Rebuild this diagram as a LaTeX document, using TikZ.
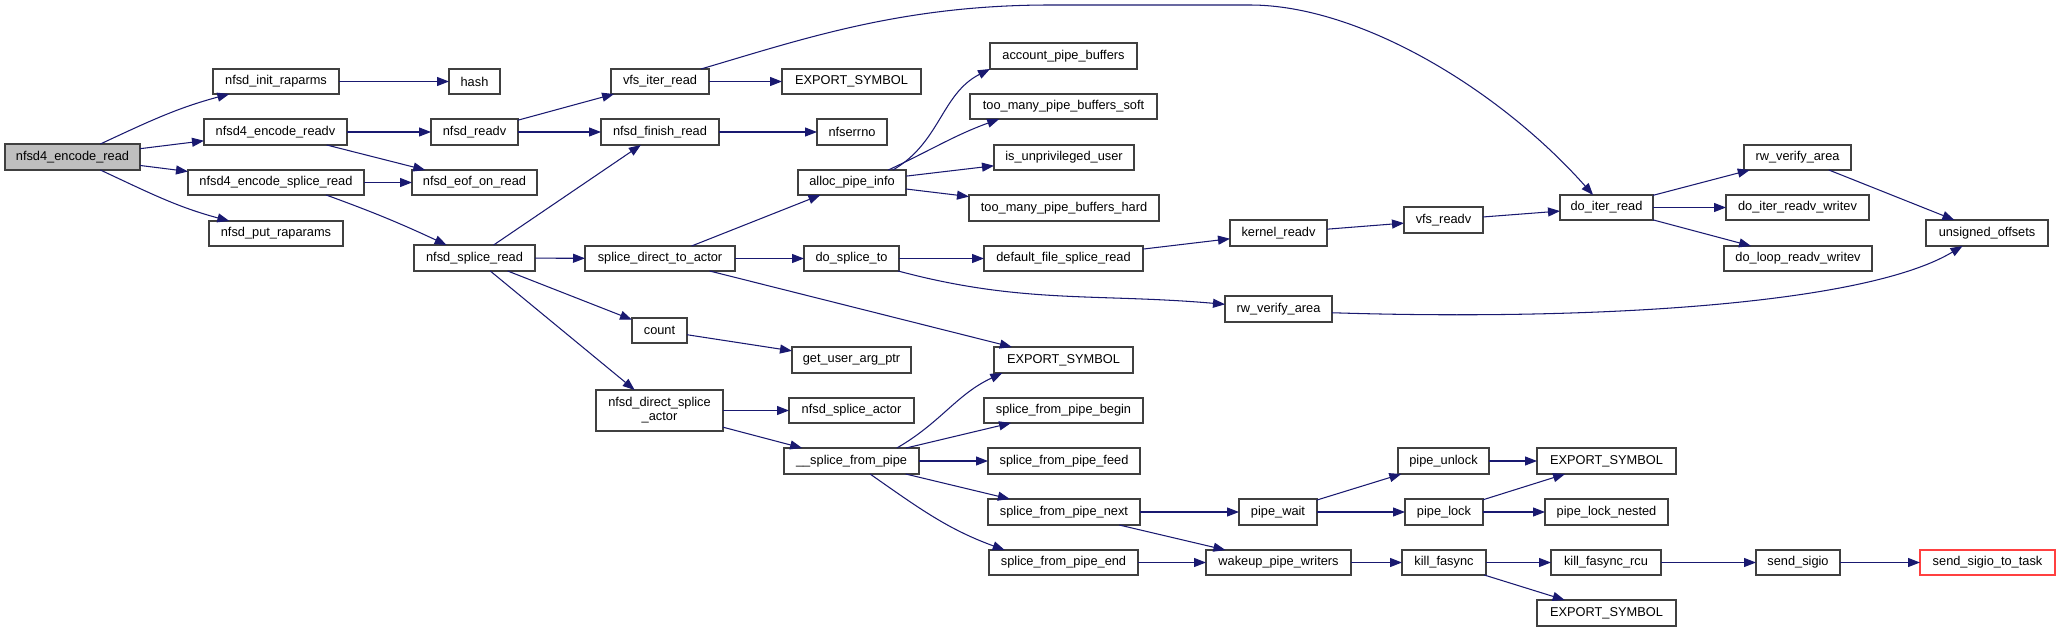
\documentclass[tikz,border=0pt]{standalone}
\usepackage{fontspec}
\setmainfont{Liberation Sans}
\usetikzlibrary{arrows.meta}
\definecolor{edgecol}{HTML}{191970}
\definecolor{boxcol}{HTML}{404040}
\definecolor{rootfill}{HTML}{BFBFBF}
\definecolor{redbox}{HTML}{FF4040}
\newcommand\gnode[7][]{\node[box,#1,minimum width={#5-#3},minimum height={#6-#4}] (#2) at ({(#3+#5)/2},{-(#4+#6)/2}) {#7};}
\begin{document}
\begin{tikzpicture}[x=1pt,y=1pt,
  box/.style={draw=boxcol,line width=1.1pt,fill=white,inner sep=0pt,outer sep=0pt,
    font=\fontsize{12.8}{14}\selectfont,align=center},
  ln/.style={draw=edgecol,line width=1.05pt,-{Triangle[length=12pt,width=9pt]}}]
\fill[white] (0,0) rectangle (2060,-632);
\useasboundingbox (0,0) rectangle (2060,-632);
% nodes
\gnode[fill=rootfill]{encread}{5}{144}{140}{170}{nfsd4\_encode\_read}
\gnode{initra}{213}{69}{339}{94}{nfsd\_init\_raparms}
\gnode{hash}{449}{69}{500}{94}{hash}
\gnode{encreadv}{204}{119}{347}{145}{nfsd4\_encode\_readv}
\gnode{readv}{431}{119}{518}{145}{nfsd\_readv}
\gnode{encsplice}{188}{170}{364}{195}{nfsd4\_encode\_splice\_read}
\gnode{eof}{412}{170}{537}{195}{nfsd\_eof\_on\_read}
\gnode{putra}{209}{221}{343}{246}{nfsd\_put\_raparams}
\gnode{splread}{414}{245}{535}{271}{nfsd\_splice\_read}
\gnode{vfsiter}{611}{69}{709}{94}{vfs\_iter\_read}
\gnode{expa}{782}{69}{921}{94}{EXPORT\_SYMBOL}
\gnode{finish}{601}{119}{719}{145}{nfsd\_finish\_read}
\gnode{nfserrno}{817}{119}{887}{145}{nfserrno}
\gnode{alloc}{798}{170}{906}{195}{alloc\_pipe\_info}
\gnode{account}{990}{43}{1137}{69}{account\_pipe\_buffers}
\gnode{soft}{970}{94}{1157}{119}{too\_many\_pipe\_buffers\_soft}
\gnode{unpriv}{994}{145}{1134}{170}{is\_unprivileged\_user}
\gnode{hard}{969}{195}{1159}{221}{too\_many\_pipe\_buffers\_hard}
\gnode{sdta}{585}{246}{735}{271}{splice\_direct\_to\_actor}
\gnode{dosplice}{804}{246}{899}{271}{do\_splice\_to}
\gnode{dfsr}{984}{246}{1143}{271}{default\_file\_splice\_read}
\gnode{count}{632}{318}{687}{343}{count}
\gnode{kreadv}{1230}{220}{1327}{246}{kernel\_readv}
\gnode{vfsreadv}{1404}{207}{1483}{233}{vfs\_readv}
\gnode{rwvb}{1225}{296}{1332}{322}{rw\_verify\_area}
\gnode{doiter}{1560}{195}{1653}{220}{do\_iter\_read}
\gnode{rwva}{1744}{145}{1851}{170}{rw\_verify\_area}
\gnode{dirw}{1726}{195}{1869}{220}{do\_iter\_readv\_writev}
\gnode{dlrw}{1724}{246}{1872}{271}{do\_loop\_readv\_writev}
\gnode{unsig}{1926}{220}{2048}{246}{unsigned\_offsets}
\gnode{guap}{792}{347}{911}{373}{get\_user\_arg\_ptr}
\gnode{ndsa}{596}{390}{723}{431}{nfsd\_direct\_splice\\\_actor}
\gnode{nsa}{789}{398}{914}{423}{nfsd\_splice\_actor}
\gnode{sfp}{784}{448}{919}{474}{\_\_splice\_from\_pipe}
\gnode{expb}{994}{347}{1133}{373}{EXPORT\_SYMBOL}
\gnode{sfpb}{984}{398}{1143}{423}{splice\_from\_pipe\_begin}
\gnode{sfpf}{988}{448}{1140}{474}{splice\_from\_pipe\_feed}
\gnode{sfpn}{988}{499}{1140}{525}{splice\_from\_pipe\_next}
\gnode{sfpe}{989}{550}{1138}{575}{splice\_from\_pipe\_end}
\gnode{pwait}{1239}{499}{1317}{525}{pipe\_wait}
\gnode{punlock}{1398}{448}{1489}{474}{pipe\_unlock}
\gnode{plock}{1405}{499}{1483}{525}{pipe\_lock}
\gnode{wpw}{1206}{550}{1351}{575}{wakeup\_pipe\_writers}
\gnode{kfa}{1402}{550}{1486}{575}{kill\_fasync}
\gnode{expc}{1537}{448}{1676}{474}{EXPORT\_SYMBOL}
\gnode{pln}{1545}{499}{1668}{525}{pipe\_lock\_nested}
\gnode{kfr}{1551}{550}{1661}{575}{kill\_fasync\_rcu}
\gnode{expd}{1537}{600}{1676}{626}{EXPORT\_SYMBOL}
\gnode{ssig}{1756}{550}{1840}{575}{send\_sigio}
\gnode[draw=redbox]{sstt}{1920}{550}{2055}{575}{send\_sigio\_to\_task}
% edges
\draw[ln] (encread) to[out=25,in=195] (initra);
\draw[ln] (encread) -- (encreadv);
\draw[ln] (encread) -- (encsplice);
\draw[ln] (encread) to[out=-25,in=165] (putra);
\draw[ln] (initra) -- (hash);
\draw[ln] (encreadv) -- (readv);
\draw[ln] (encreadv) -- (eof);
\draw[ln] (encsplice) -- (eof);
\draw[ln] (encsplice.-14) to[out=-20,in=155] (splread.155);
\draw[ln] (readv) -- (vfsiter);
\draw[ln] (readv) -- (finish);
\draw[ln] (vfsiter) -- (expa);
\draw[ln] (vfsiter.17) .. controls (800,-40) and (900,-5) .. (1050,-5) -- (1250,-5) .. controls (1360,-5) and (1500,-90) .. (doiter.137);
\draw[ln] (finish) -- (nfserrno);
\draw[ln] (splread) -- (finish);
\draw[ln] (splread) -- (sdta);
\draw[ln] (splread) -- (count);
\draw[ln] (splread) -- (ndsa);
\draw[ln] (sdta) -- (alloc);
\draw[ln] (sdta) -- (dosplice);
\draw[ln] (sdta) -- (expb);
\draw[ln] (alloc.17) to[out=30,in=207] (account.south west);
\draw[ln] (alloc.19) to[out=25,in=200] (soft.191);
\draw[ln] (alloc) -- (unpriv);
\draw[ln] (alloc) -- (hard);
\draw[ln] (dosplice) -- (dfsr);
\draw[ln] (dosplice) to[out=-15,in=175] (rwvb);
\draw[ln] (dfsr) -- (kreadv);
\draw[ln] (kreadv) -- (vfsreadv);
\draw[ln] (vfsreadv) -- (doiter);
\draw[ln] (doiter) -- (rwva);
\draw[ln] (doiter) -- (dirw);
\draw[ln] (doiter) -- (dlrw);
\draw[ln] (rwva) -- (unsig);
\draw[ln] (rwvb.-4) .. controls +(250,-8) and +(-100,-60) .. (unsig.208);
\draw[ln] (count) -- (guap);
\draw[ln] (ndsa) -- (nsa);
\draw[ln] (ndsa) -- (sfp);
\draw[ln] (sfp.16) to[out=30,in=205] (expb.192);
\draw[ln] (sfp) -- (sfpb);
\draw[ln] (sfp) -- (sfpf);
\draw[ln] (sfp) -- (sfpn);
\draw[ln] (sfp) to[out=-35,in=160] (sfpe.168);
\draw[ln] (sfpn) -- (pwait);
\draw[ln] (sfpn) -- (wpw);
\draw[ln] (sfpe) -- (wpw);
\draw[ln] (pwait) -- (punlock);
\draw[ln] (pwait) -- (plock);
\draw[ln] (punlock) -- (expc);
\draw[ln] (plock) -- (expc);
\draw[ln] (plock) -- (pln);
\draw[ln] (wpw) -- (kfa);
\draw[ln] (kfa) -- (kfr);
\draw[ln] (kfa) -- (expd);
\draw[ln] (kfr) -- (ssig);
\draw[ln] (ssig) -- (sstt);
\end{tikzpicture}
\end{document}
